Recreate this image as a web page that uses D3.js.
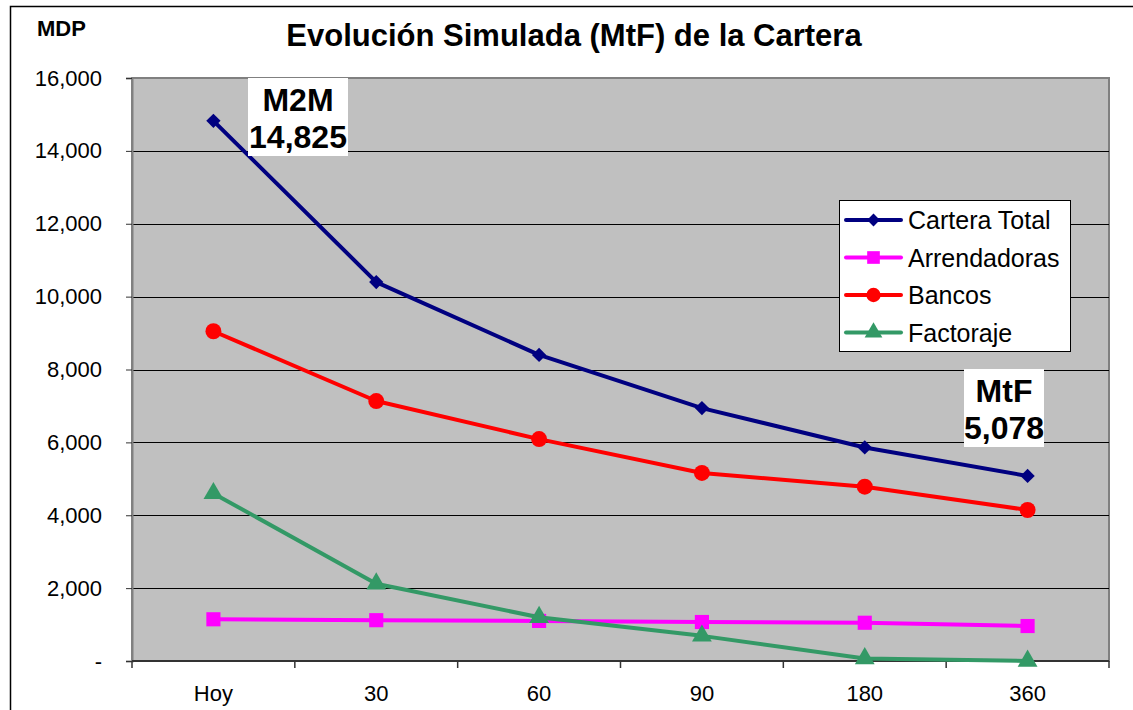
<!DOCTYPE html>
<html>
<head>
<meta charset="utf-8">
<script src="https://cdn.jsdelivr.net/npm/d3@7"></script>
<style>
  html, body { margin: 0; padding: 0; background: #fff; }
  svg { display: block; font-family: "Liberation Sans", Arial, sans-serif; }
</style>
</head>
<body>
<div id="chart"></div>
<script>
// Categories (days)
const categories = ["Hoy", "30", "60", "90", "180", "360"];

// Series values (MDP)
const carteraTotal = [14825, 10400, 8400, 6940, 5860, 5078];
const arrendadoras = [1145, 1120, 1100, 1070, 1050, 960];
const bancos = [9050, 7135, 6090, 5160, 4785, 4144];
const factoraje = [4600, 2120, 1200, 690, 70, 0];

// Y tick values
const yTicks = [0, 2000, 4000, 6000, 8000, 10000, 12000, 14000, 16000];

const series = [
  { name: "Cartera Total", values: carteraTotal, color: "#000080", marker: "diamond" },
  { name: "Arrendadoras", values: arrendadoras, color: "#FF00FF", marker: "square" },
  { name: "Bancos", values: bancos, color: "#FF0000", marker: "circle" },
  { name: "Factoraje", values: factoraje, color: "#339966", marker: "triangle" }
];

// Figure
const width = 1133;
const height = 710;
const marginTop = 78;
const marginRight = 24;
const marginBottom = 49;
const marginLeft = 132;

const svg = d3.select("#chart").append("svg")
    .attr("width", width)
    .attr("height", height);

// Outer chart border
svg.append("rect")
    .attr("x", 10.5).attr("y", 6.5)
    .attr("width", width + 20).attr("height", height + 20)
    .attr("fill", "none")
    .attr("stroke", "#000")
    .attr("stroke-width", 1.5);

// Scales
const x = d3.scaleBand()
    .domain(categories)
    .range([marginLeft, width - marginRight]);

const y = d3.scaleLinear()
    .domain([0, 16000])
    .range([height - marginBottom, marginTop]);

// Plot background
svg.append("rect")
    .attr("x", marginLeft).attr("y", marginTop)
    .attr("width", x.range()[1] - marginLeft)
    .attr("height", y(0) - marginTop)
    .attr("fill", "#C0C0C0")
    .attr("stroke", "#808080")
    .attr("stroke-width", 2);

// Gridlines
svg.append("g")
  .selectAll("line")
  .data(yTicks.filter(d => d > 0 && d < 16000))
  .join("line")
    .attr("x1", marginLeft).attr("x2", x.range()[1])
    .attr("y1", d => Math.round(y(d)) + 0.5)
    .attr("y2", d => Math.round(y(d)) + 0.5)
    .attr("stroke", "#000")
    .attr("stroke-width", 1);

// Y-axis
const fmt = d => d === 0 ? "-" : d3.format(",")(d);
const yAxis = svg.append("g")
    .attr("transform", `translate(${marginLeft},0)`)
    .call(d3.axisLeft(y).tickValues(yTicks).tickFormat(fmt).tickSize(6).tickPadding(24));
yAxis.select(".domain").attr("stroke", "#808080").attr("stroke-width", 2);
yAxis.selectAll("line").attr("stroke", "#333");
yAxis.selectAll("text")
    .attr("font-size", "22px")
    .attr("fill", "#000")
    .attr("font-family", "Liberation Sans, Arial, sans-serif");

// X-axis (ticks between categories)
const xAxisG = svg.append("g")
    .attr("transform", `translate(0,${y(0)})`);
xAxisG.append("line")
    .attr("x1", marginLeft).attr("x2", x.range()[1])
    .attr("stroke", "#333").attr("stroke-width", 2);
const bounds = [marginLeft].concat(categories.map(c => x(c) + x.bandwidth()));
xAxisG.selectAll(".tk")
  .data(bounds)
  .join("line")
    .attr("class", "tk")
    .attr("x1", d => d).attr("x2", d => d)
    .attr("y1", 0).attr("y2", 7)
    .attr("stroke", "#333").attr("stroke-width", 1.5);
xAxisG.selectAll("text")
  .data(categories)
  .join("text")
    .attr("x", d => x(d) + x.bandwidth() / 2)
    .attr("y", 40)
    .attr("text-anchor", "middle")
    .attr("font-size", "22px")
    .text(d => d);

// Markers
const symbolTypes = {
  diamond: d3.symbolDiamond2,
  square: d3.symbolSquare,
  circle: d3.symbolCircle,
  triangle: d3.symbolTriangle
};
const symbolSizes = { diamond: 130, square: 200, circle: 200, triangle: 170 };

// Lines
const line = d3.line()
    .x((d, i) => x(categories[i]) + x.bandwidth() / 2)
    .y(d => y(d));

series.forEach(s => {
  svg.append("path")
      .datum(s.values)
      .attr("fill", "none")
      .attr("stroke", s.color)
      .attr("stroke-width", 4)
      .attr("stroke-linejoin", "round")
      .attr("d", line);
  svg.append("g")
    .selectAll("path")
    .data(s.values)
    .join("path")
      .attr("transform", (d, i) => `translate(${x(categories[i]) + x.bandwidth() / 2},${y(d)})`)
      .attr("d", d3.symbol(symbolTypes[s.marker], symbolSizes[s.marker]))
      .attr("fill", s.color);
});

// Annotation boxes
function annotate(cx, top, w, lines) {
  const g = svg.append("g");
  g.append("rect")
      .attr("x", cx - w / 2).attr("y", top)
      .attr("width", w).attr("height", 78)
      .attr("fill", "#fff");
  lines.forEach((t, i) => {
    g.append("text")
        .attr("x", cx)
        .attr("y", top + 33 + i * 37)
        .attr("text-anchor", "middle")
        .attr("font-size", "32px")
        .attr("font-weight", "bold")
        .text(t);
  });
}
annotate(298, 78, 100, ["M2M", d3.format(",")(carteraTotal[0])]);
annotate(1004, 369, 80, ["MtF", d3.format(",")(carteraTotal[5])]);

// Legend
const legend = svg.append("g").attr("transform", "translate(839,200)");
legend.append("rect")
    .attr("x", 0.5).attr("y", 0.5)
    .attr("width", 231).attr("height", 151)
    .attr("fill", "#fff")
    .attr("stroke", "#000");
series.forEach((s, i) => {
  const ly = 20 + i * 37.5;
  legend.append("line")
      .attr("x1", 7).attr("x2", 62)
      .attr("y1", ly).attr("y2", ly)
      .attr("stroke", s.color)
      .attr("stroke-width", 4)
      .attr("stroke-linecap", "round");
  legend.append("path")
      .attr("transform", `translate(34.5,${ly})`)
      .attr("d", d3.symbol(symbolTypes[s.marker], symbolSizes[s.marker] * 0.8))
      .attr("fill", s.color);
  legend.append("text")
      .attr("x", 69).attr("y", ly + 9)
      .attr("font-size", "25px")
      .text(s.name);
});

// Title
svg.append("text")
    .attr("x", 574).attr("y", 46)
    .attr("text-anchor", "middle")
    .attr("font-size", "31px")
    .attr("font-weight", "bold")
    .text("Evolución Simulada (MtF) de la Cartera");

// Unit label
svg.append("text")
    .attr("x", 37).attr("y", 36)
    .attr("font-size", "22px")
    .attr("font-weight", "bold")
    .text("MDP");
</script>
</body>
</html>
